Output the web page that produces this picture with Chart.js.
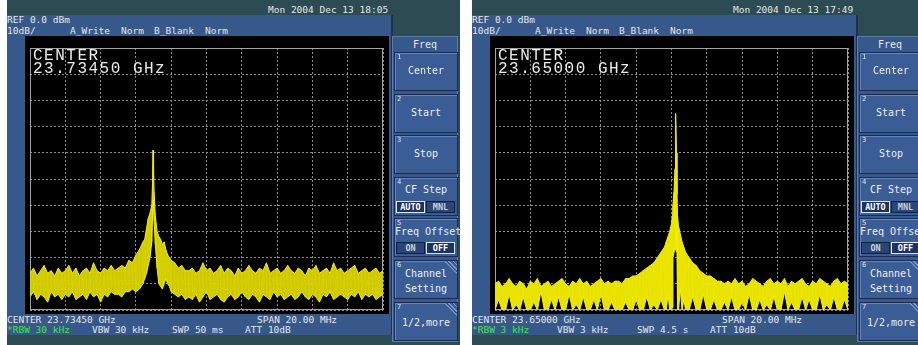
<!DOCTYPE html>
<html>
<head>
<meta charset="utf-8">
<script src="https://cdn.jsdelivr.net/npm/chart.js"></script>
<style>
  body { margin: 0; width: 918px; height: 345px; overflow: hidden; background: #ffffff;
         font-family: "DejaVu Sans Mono", monospace; position: relative; }
  .scr { position: absolute; top: 0; width: 453px; height: 345px; background: #2d4b52; overflow: hidden; }
  .panel { position: absolute; left: 0; top: 15px; width: 384px; height: 320px; background: #37588b;
           border-right: 2px solid #1d3050; }
  .plot { position: absolute; left: 18px; top: 36px; width: 364px; height: 278px; background: #000; }
  .plot canvas { position: absolute; left: 0; top: 0; }
  .t { position: absolute; font-size: 9.5px; line-height: 10px; color: #e6e6e6; white-space: pre; }
  .green { color: #3ee63e; }
  .big { position: absolute; left: 8px; top: 14px; font-family: "Liberation Mono", monospace; font-size: 16px;
         line-height: 12.5px; letter-spacing: 1.5px; color: #ececec; white-space: pre; }
  .col { position: absolute; left: 385px; top: 36px; width: 66px; height: 306px; background: #37588b;
         border: 1px solid #5c7cb0; box-sizing: border-box; }
  .head { position: absolute; left: 0; top: 2px; width: 100%; text-align: center; font-size: 10px; color: #e8e8e8; }
  .key { position: absolute; left: 1px; width: 62px; height: 37px; background: #3b5d96;
         border: 1px solid #1a2c52; box-shadow: inset 1px 1px 0 #6586bd; }
  .num { position: absolute; left: 2px; top: 1px; font-size: 7px; line-height: 7px; color: #e0e0e0; }
  .lbl { position: absolute; left: 0; width: 100%; text-align: center; font-size: 10px; line-height: 12px; color: #eeeeee; white-space: pre; }
  .box { position: absolute; top: 23px; width: 27px; height: 10px; font-size: 8.5px; line-height: 10px; text-align: center;
         border: 1px solid #10203e; background: #2a4677; color: #c8d0e0; font-weight: bold; }
  .box.on { border-color: #dfe6f2; background: #1c335e; color: #ffffff; }
  .hatch { position: absolute; right: 0; top: 0; width: 13px; height: 13px;
           clip-path: polygon(0 0, 100% 0, 100% 100%);
           background: repeating-linear-gradient(45deg, #7c9ad0 0 1px, #3b5d96 1px 3px); }
</style>
</head>
<body>

<div class="scr" id="scrL" style="left:7px"></div>
<div class="scr" id="scrR" style="left:472px"></div>

<script>
// ---- data: frequency offset from center (MHz), trace max / min (dBm) ----
// left screen, 23.73450 GHz, RBW 30 kHz
const freqL = [
  -10.0, -9.8, -9.6, -9.4, -9.2, -9.0, -8.8, -8.6, -8.4, -8.2, -8.0, -7.8, -7.6,
  -7.4, -7.2, -7.0, -6.8, -6.6, -6.4, -6.2, -6.0, -5.8, -5.6, -5.4, -5.2,
  -5.0, -4.8, -4.6, -4.4, -4.2, -4.0, -3.8, -3.6, -3.5, -3.4, -3.3, -3.2, -3.1,
  -3.06, -3.03, -3.0, -2.97, -2.9, -2.8, -2.7, -2.6, -2.5, -2.4, -2.3, -2.2, -2.1,
  -2.0, -1.8, -1.6, -1.4, -1.2,
  -1.0, -0.8, -0.6, -0.4, -0.2, 0.0, 0.2, 0.4,
  0.6, 0.8, 1.0, 1.2, 1.4, 1.6, 1.8, 2.0,
  2.2, 2.4, 2.6, 2.8, 3.0, 3.2, 3.4, 3.6,
  3.8, 4.0, 4.2, 4.4, 4.6, 4.8, 5.0, 5.2,
  5.4, 5.6, 5.8, 6.0, 6.2, 6.4, 6.6, 6.8,
  7.0, 7.2, 7.4, 7.6, 7.8, 8.0, 8.2, 8.4,
  8.6, 8.8, 9.0, 9.2, 9.4, 9.6, 9.8, 10.0
];
const hiL = [
  -86, -84, -87, -85, -83, -86, -85, -87, -84, -86, -85, -83, -86,
  -84, -87, -85, -84, -86, -82, -85, -86, -84, -85, -83, -85,
  -84, -83, -84, -81, -82, -79, -77, -74, -73, -69, -65, -63, -60,
  -52, -39, -44, -55, -64, -70, -72, -73, -75, -74, -77, -79, -80,
  -81, -82, -84, -83, -85,
  -85, -84, -86, -85, -82, -85, -84, -86,
  -85, -83, -86, -84, -85, -87, -84, -86,
  -85, -83, -85, -86, -84, -85, -82, -86,
  -85, -84, -86, -85, -83, -85, -86, -84,
  -85, -87, -84, -85, -83, -86, -85, -84,
  -86, -82, -85, -84, -86, -85, -84, -83,
  -86, -85, -84, -86, -85, -84, -86, -85
];
const loL = [
  -95, -93, -96, -94, -95, -97, -93, -95, -94, -96, -94, -95, -93,
  -96, -95, -94, -96, -93, -95, -94, -97, -94, -95, -93, -94,
  -94, -95, -93, -93, -92, -93, -92, -90, -88, -86, -83, -80, -74,
  -64, -58, -60, -66, -75, -84, -90, -91, -92, -90, -88, -90, -91,
  -93, -94, -95, -94, -96,
  -95, -96, -94, -97, -95, -93, -96, -95,
  -94, -96, -97, -95, -94, -96, -95, -93,
  -95, -96, -94, -95, -97, -94, -95, -96,
  -93, -95, -94, -96, -95, -94, -96, -95,
  -93, -95, -96, -94, -95, -97, -94, -95,
  -93, -96, -95, -94, -95, -96, -94, -95,
  -93, -96, -94, -95, -94, -96, -95, -94
];

// right screen, 23.65000 GHz, RBW 3 kHz
const freqR = [
  -10.0, -9.8, -9.6, -9.4, -9.2, -9.0, -8.8, -8.6, -8.4, -8.2, -8.0, -7.8,
  -7.6, -7.4, -7.2, -7.0, -6.8, -6.6, -6.4, -6.2, -6.0, -5.8, -5.6, -5.4,
  -5.2, -5.0, -4.8, -4.6, -4.4, -4.2, -4.0, -3.8, -3.6, -3.4, -3.2,
  -3.0, -2.8, -2.6, -2.4, -2.2, -2.0, -1.8, -1.6, -1.4, -1.2, -1.0, -0.8,
  -0.6, -0.4, -0.3, -0.2, -0.1, 0.0, 0.05, 0.08, 0.14, 0.2, 0.22, 0.25,
  0.28, 0.31, 0.34, 0.4, 0.5, 0.6, 0.7, 0.8, 1.0, 1.2, 1.4, 1.6,
  1.8, 2.0, 2.2, 2.4, 2.6, 2.8, 3.0,
  3.2, 3.4, 3.6, 3.8, 4.0, 4.2, 4.4, 4.6, 4.8, 5.0, 5.2, 5.4,
  5.6, 5.8, 6.0, 6.2, 6.4, 6.6, 6.8, 7.0, 7.2, 7.4, 7.6, 7.8,
  8.0, 8.2, 8.4, 8.6, 8.8, 9.0, 9.2, 9.4, 9.6, 9.8, 10.0
];
const hiR = [
  -90, -89, -91, -90, -88, -90, -91, -89, -90, -92, -89, -90,
  -88, -91, -90, -89, -91, -90, -89, -88, -90, -91, -89, -90,
  -88, -90, -89, -91, -90, -89, -88, -90, -89, -90, -89,
  -89, -90, -88, -88, -87, -87, -86, -85, -84, -83, -82, -80,
  -78, -76, -74, -72, -70, -67, -64, -60, -55, -46, -34, -25,
  -40, -56, -64, -68, -71, -74, -76, -78, -80, -82, -83, -85,
  -86, -87, -87, -88, -89, -89, -90,
  -89, -90, -88, -90, -89, -91, -90, -88, -89, -90, -91, -89,
  -88, -90, -89, -90, -88, -91, -89, -90, -89, -88, -90, -91,
  -89, -90, -88, -89, -90, -91, -89, -88, -90, -89, -90
];
const loR = [
  -100, -96, -100, -100, -94, -100, -98, -100, -95, -100, -100, -97,
  -100, -93, -100, -100, -96, -100, -95, -100, -100, -94, -100, -98,
  -100, -95, -100, -100, -96, -100, -94, -100, -100, -97, -100,
  -100, -100, -97, -100, -100, -96, -100, -100, -95, -100, -98, -100,
  -96, -100, -100, -94, -100, -100, -99, -80, -78, -77, -72, -62,
  -70, -78, -100, -100, -92, -100, -96, -100, -100, -95, -100, -100,
  -94, -100, -100, -96, -100, -100, -97,
  -100, -95, -100, -100, -97, -100, -94, -100, -100, -96, -100, -98,
  -100, -95, -100, -100, -93, -100, -97, -100, -100, -95, -100, -96,
  -100, -100, -94, -100, -98, -100, -95, -100, -100, -96, -100
];

const screens = [
  { id: "scrL", time: "Mon 2004 Dec 13 18:05", center: "23.73450 GHz", rbw: "30 kHz", vbw: "30 kHz", swp: "50 ms",
    freq: freqL, hi: hiL, lo: loL, fill: "rgba(222,216,0,0.92)", streak: "rgba(120,116,0,0.75)" },
  { id: "scrR", time: "Mon 2004 Dec 13 17:49", center: "23.65000 GHz", rbw: "3 kHz", vbw: "3 kHz", swp: "4.5 s",
    freq: freqR, hi: hiR, lo: loR, fill: "rgba(238,232,0,0.97)", streak: "rgba(150,146,0,0.55)" }
];

function buildScreen(s) {
  let el = document.getElementById(s.id);
  el.innerHTML = `
    <div class="t" style="left:261px;top:5px">${s.time}</div>
    <div class="panel"></div>
    <div class="t" style="left:0;top:15px">REF 0.0 dBm</div>
    <div class="t" style="left:0;top:26px">10dB/</div>
    <div class="t" style="left:63px;top:26px">A_Write</div>
    <div class="t" style="left:114px;top:26px">Norm</div>
    <div class="t" style="left:147px;top:26px">B_Blank</div>
    <div class="t" style="left:198px;top:26px">Norm</div>
    <div class="plot"><canvas id="${s.id}c" width="364" height="278"></canvas>
      <div class="big">CENTER\n${s.center}</div></div>
    <div class="t" style="left:0;top:315px">CENTER ${s.center}</div>
    <div class="t" style="left:250px;top:315px">SPAN 20.00 MHz</div>
    <div class="t green" style="left:0;top:325px">*RBW ${s.rbw}</div>
    <div class="t" style="left:85px;top:325px">VBW ${s.vbw}</div>
    <div class="t" style="left:165px;top:325px">SWP ${s.swp}</div>
    <div class="t" style="left:238px;top:325px">ATT 10dB</div>
    <div class="col">
      <div class="head">Freq</div>
      <div class="key" style="top:15px"><div class="num">1</div><div class="lbl" style="top:12px">Center</div></div>
      <div class="key" style="top:57px"><div class="num">2</div><div class="lbl" style="top:12px">Start</div></div>
      <div class="key" style="top:98px"><div class="num">3</div><div class="lbl" style="top:12px">Stop</div></div>
      <div class="key" style="top:140px"><div class="num">4</div><div class="lbl" style="top:6px">CF Step</div>
        <div class="box on" style="left:1px">AUTO</div><div class="box" style="left:31px">MNL</div></div>
      <div class="key" style="top:181px"><div class="num">5</div><div class="lbl" style="top:7px">Freq Offset</div>
        <div class="box" style="left:1px">ON</div><div class="box on" style="left:31px">OFF</div></div>
      <div class="key" style="top:223px"><div class="num">6</div><div class="hatch"></div>
        <div class="lbl" style="top:5px;line-height:15px">Channel\nSetting</div></div>
      <div class="key" style="top:265px"><div class="num">7</div><div class="hatch"></div>
        <div class="lbl" style="top:14px">1/2,more</div></div>
    </div>`;
}

const framePlugin = {
  id: "frame",
  beforeDatasetsDraw(chart) {
    const { ctx, chartArea: a } = chart;
    ctx.save();
    ctx.strokeStyle = "#a4a4a4";
    ctx.lineWidth = 1;
    ctx.strokeRect(a.left + 0.5, a.top + 0.5, a.right - a.left - 1, a.bottom - a.top - 1);
    ctx.restore();
  }
};

function drawTrace(s) {
  let top = s.freq.map((f, i) => ({ x: f, y: s.hi[i] }));
  let bottom = s.freq.map((f, i) => ({ x: f, y: s.lo[i] }));
  // the sweep itself: each point drawn from its max down to its min
  let sweep = s.freq.flatMap((f, i) => [{ x: f, y: s.hi[i] }, { x: f, y: s.lo[i] }]);
  new Chart(document.getElementById(s.id + "c"), {
    type: "line",
    data: {
      datasets: [
        { data: top, borderColor: "#f4ee12", borderWidth: 1, pointRadius: 0, fill: false },
        { data: bottom, borderColor: "#f4ee12", borderWidth: 1, pointRadius: 0, fill: "-1", backgroundColor: s.fill },
        { data: sweep, borderColor: s.streak, borderWidth: 1, pointRadius: 0, fill: false }
      ]
    },
    options: {
      responsive: false,
      animation: false,
      layout: { padding: { left: 5, top: 12, right: 6, bottom: 4 } },
      plugins: { legend: { display: false }, tooltip: { enabled: false } },
      scales: {
        x: { type: "linear", min: -10, max: 10,
             ticks: { display: false, stepSize: 2 },
             grid: { color: "#8e8e8e", lineWidth: 1, drawTicks: false },
             border: { display: false, dash: [2, 2] } },
        y: { min: -100, max: 0,
             ticks: { display: false, stepSize: 10 },
             grid: { color: "#8e8e8e", lineWidth: 1, drawTicks: false },
             border: { display: false, dash: [2, 2] } }
      }
    },
    plugins: [framePlugin]
  });
}

screens.forEach(s => { buildScreen(s); drawTrace(s); });
</script>
</body>
</html>
